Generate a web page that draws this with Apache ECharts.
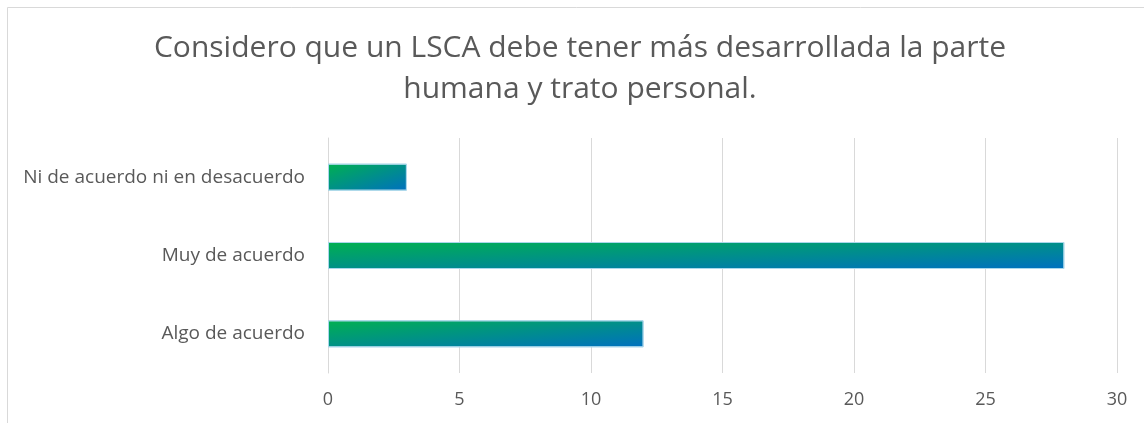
<!DOCTYPE html>
<html>
<head>
<meta charset="utf-8">
<script src="https://cdn.jsdelivr.net/npm/echarts@6/dist/echarts.min.js"></script>
<style>
html,body{margin:0;padding:0;background:#fff;}
#chart{width:1144px;height:423px;}
</style>
</head>
<body>
<div id="chart"></div>
<script>
// Data (bottom to top, as ECharts category y axis draws)
const categories = ['Algo de acuerdo', 'Muy de acuerdo', 'Ni de acuerdo ni en desacuerdo'];
const values = [12, 28, 3];
const xTicks = { min: 0, max: 30, interval: 5 };
const titleLines = ['Considero que un LSCA debe tener más desarrollada la parte', 'humana y trato personal.'];

const FONT = '"Open Sans", sans-serif';
const TEXT = '#595959';
const GRIDC = '#d9d9d9';
const BAR_H = 27;

const chart = echarts.init(document.getElementById('chart'), null, { renderer: 'canvas' });

function gradientFor(w, h) {
  // Excel-like diagonal gradient scaled to shape: colour = (u+v)/2
  const c = 2 / (1 / (w * w) + 1 / (h * h));
  const x1 = c / (w * w), y1 = c / (h * h);
  return new echarts.graphic.LinearGradient(0, 0, x1, y1, [
    { offset: 0, color: '#00B050' },
    { offset: 1, color: '#0070C0' }
  ]);
}

const baseOption = {
  animation: false,
  backgroundColor: '#fff',
  grid: { left: 328, right: 27, top: 138, bottom: 50, containLabel: false },
  graphic: [
    { type: 'rect', shape: { x: 7.5, y: 7.5, width: 1300, height: 600 }, style: { fill: 'none', stroke: GRIDC, lineWidth: 1 }, silent: true },
    { type: 'text', x: 580, y: 28, style: { text: titleLines.join('\n'), fill: TEXT, font: '30px ' + FONT, align: 'center', verticalAlign: 'top', lineHeight: 41 } }
  ],
  xAxis: {
    type: 'value', min: xTicks.min, max: xTicks.max, interval: xTicks.interval,
    axisLine: { show: false }, axisTick: { show: false },
    splitLine: { show: true, lineStyle: { color: GRIDC, width: 1 } },
    axisLabel: { color: TEXT, fontFamily: FONT, fontSize: 18, margin: 18 }
  },
  yAxis: {
    type: 'category', data: categories,
    axisLine: { show: true, lineStyle: { color: GRIDC } }, axisTick: { show: false },
    axisLabel: { color: TEXT, fontFamily: FONT, fontSize: 19, margin: 23 }
  },
  series: [{
    type: 'bar', barWidth: BAR_H,
    data: values,
    itemStyle: { color: '#00908a', borderColor: 'rgba(170,215,235,0.9)', borderWidth: 1 }
  }]
};
chart.setOption(baseOption);

const p0 = chart.convertToPixel({ xAxisIndex: 0 }, 0);
const p30 = chart.convertToPixel({ xAxisIndex: 0 }, xTicks.max);
const ppu = (p30 - p0) / xTicks.max;
chart.setOption({
  series: [{
    data: values.map(v => ({ value: v, itemStyle: { color: gradientFor(Math.max(v * ppu, 1), BAR_H) } }))
  }]
});
</script>
</body>
</html>
